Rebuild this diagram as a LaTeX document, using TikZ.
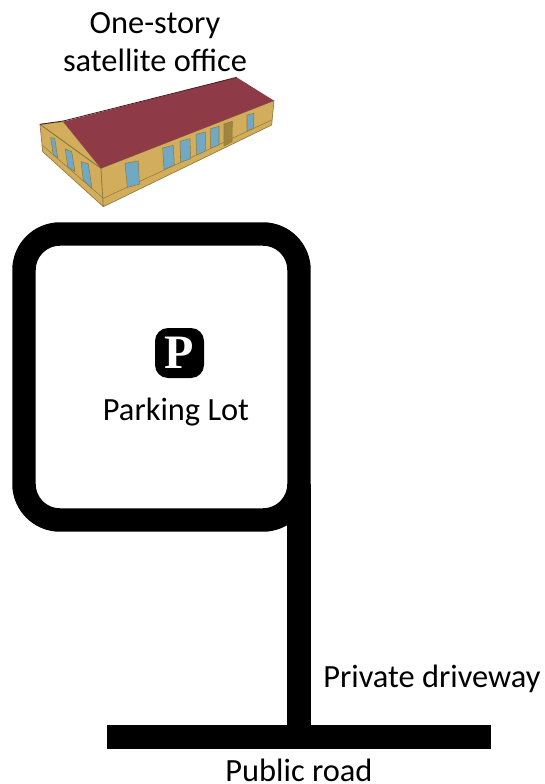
\documentclass[tikz,border=0pt]{standalone}
\usepackage{fontspec}
\setmainfont{Carlito}
\newfontfamily\pfont{Liberation Serif}[Scale=1]
\definecolor{roofred}{HTML}{8E3A47}
\definecolor{wallyellow}{HTML}{D2AE5C}
\definecolor{wallline}{HTML}{8F7A3E}
\definecolor{glassblue}{HTML}{6FA9C6}
\definecolor{doorbrown}{HTML}{A08540}
\tikzset{
  lbl/.style={font=\fontsize{24.3}{29.5}\selectfont,inner sep=0pt,align=center,text=black},
  roadline/.style={draw=black,line width=17.6pt},
  win/.style={fill=glassblue,draw=wallline,line width=0.4pt},
  wall/.style={fill=wallyellow,draw=wallline,line width=0.5pt,line join=round},
}
\begin{document}
\begin{tikzpicture}[x=0.75pt,y=-0.75pt]
\useasboundingbox (0,0) rectangle (545,784);
\fill[white] (0,0) rectangle (545,784);
% building, in zoom coordinates
\begin{scope}[shift={(20,60)},x=0.25pt,y=-0.25pt]
  \path[wall] (60,193) -- (243,325) -- (250,440) -- (68,275) -- cycle;
  \path[wall] (243,325) -- (762,122) -- (755,195) -- (250,440) -- cycle;
  \path[wall] (60,193) -- (130,185) -- (243,325) -- cycle;
  \draw[wallline,line width=0.4pt] (66,255) -- (250,415) -- (755,180);
  \draw[wallline,line width=0.4pt] (60,193) -- (243,325);
  \path[fill=roofred] (130,185) -- (650,52) -- (762,122) -- (243,325) -- cycle;
  \draw[black!55!roofred,line width=0.6pt] (60,193) -- (130,183) -- (650,52);
  % side windows
  \path[win] (92,233) -- (104,235) -- (113,293) -- (100,285) -- cycle;
  \path[win] (136,267) -- (155,275) -- (165,335) -- (143,320) -- cycle;
  \path[win] (183,305) -- (205,312) -- (216,385) -- (190,360) -- cycle;
  % front windows
  \path[win] (315,310) -- (355,303) -- (358,373) -- (322,382) -- cycle;
  \path[win] (428,264) -- (460,256) -- (463,315) -- (432,328) -- cycle;
  \path[win] (480,244) -- (510,236) -- (512,296) -- (482,307) -- cycle;
  \path[win] (528,223) -- (556,216) -- (556,273) -- (530,285) -- cycle;
  \path[win] (572,206) -- (597,199) -- (597,255) -- (572,264) -- cycle;
  \path[fill=doorbrown,draw=wallline,line width=0.4pt] (612,192) -- (637,184) -- (636,245) -- (612,258) -- cycle;
  \path[win] (681,165) -- (702,160) -- (700,205) -- (681,213) -- cycle;
\end{scope}
% lot and roads
\node[draw=black,line width=17.6pt,outer sep=0pt,rounded corners=36*0.75pt,minimum width=275*0.75pt,minimum height=286*0.75pt,inner sep=0pt,anchor=north west] (lot) at (24,234) {};
\node[fill=black,outer sep=0pt,minimum width=384*0.75pt,minimum height=24*0.75pt,inner sep=0pt,anchor=north west] (road) at (107,725) {};
\coordinate (drivetop) at (299,484);
\coordinate (drivebot) at (299,726);
\draw[roadline] (drivetop) -- (drivebot);
% parking icon
\node[fill=black,rounded corners=13*0.75pt,minimum width=49*0.75pt,minimum height=50*0.75pt,inner sep=0pt] (pbox) at (179.5,353) {};
\node[text=white,font=\pfont\bfseries\fontsize{36}{36}\selectfont,inner sep=0pt] (pletter) at (179.5,353) {P};
% labels
\node[lbl] (office) at (155,42.5) {One-story\\[-1pt]satellite office};
\node[lbl] (parking) at (176,412) {Parking Lot};
\node[lbl,anchor=west] (private) at (323,678.5) {Private driveway};
\node[lbl] (public) at (299,770) {Public road};
\end{tikzpicture}
\end{document}
